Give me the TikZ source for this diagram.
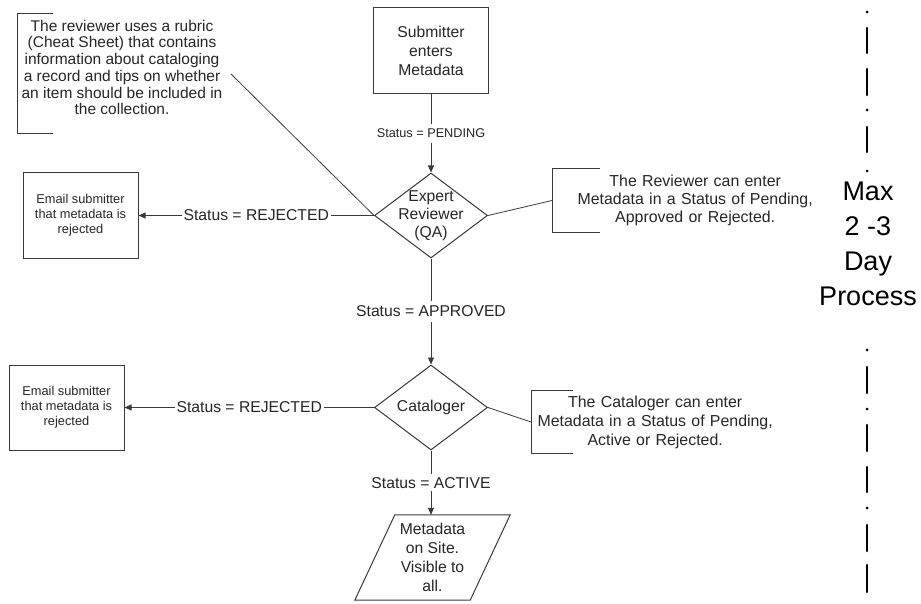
\documentclass[tikz,border=0pt]{standalone}
\usepackage{fontspec}
\setmainfont{Liberation Sans}
\usetikzlibrary{shapes.geometric, arrows.meta, positioning}
\definecolor{linegray}{HTML}{3A3A3A}
\definecolor{textgray}{HTML}{262626}

\begin{document}
\begin{tikzpicture}[
    x=1pt, y=-1pt,
    every node/.style={font=\fontsize{15.7}{19}\selectfont, text=textgray},
    box/.style={draw=linegray, line width=1pt, minimum width=115pt, minimum height=86pt, inner sep=0pt, align=center},
    dec/.style={draw=linegray, line width=1pt, diamond, minimum width=113pt, minimum height=85pt, inner sep=0pt},
    io/.style={minimum width=115pt, minimum height=85pt, inner sep=0pt, align=center},
    note/.style={anchor=west, inner sep=0pt, align=center},
    lbl/.style={fill=white, inner xsep=2pt, inner ysep=5pt},
    arr/.style={-{Triangle[length=7pt, width=6pt]}, line width=0.8pt, draw=linegray},
    ln/.style={line width=0.8pt, draw=linegray}
]
    \useasboundingbox (0,0) rectangle (921,604);

    % ===== main flow =====
    \node[box] (sub) at (431,51) {Submitter\\enters\\Metadata};
    \node[dec, label={[align=center, font=\fontsize{15.7}{18}\selectfont]center:Expert\\Reviewer\\(QA)}] (rev) at (431,215.5) {};
    \node[dec, label=center:Cataloger] (cat) at (431,407.5) {};
    \node[io] (site) at (432.5,557.5) {Metadata\\on Site.\\Visible to\\all.};
    \draw[draw=linegray, line width=1pt] ([xshift=20pt]site.north west) -- ([xshift=20pt]site.north east)
        -- ([xshift=-20pt]site.south east) -- ([xshift=-20pt]site.south west) -- cycle;

    % ===== rejection mails =====
    \node[box, minimum height=85pt, font=\fontsize{12.8}{15}\selectfont] (mail1) at (80.5,215.5) {Email submitter\\that metadata is\\rejected};
    \node[box, minimum height=85pt, font=\fontsize{12.8}{15}\selectfont] (mail2) at (66.5,407.5) {Email submitter\\that metadata is\\rejected};

    \draw[arr] (sub.south) -- node[lbl, font=\fontsize{12.7}{15}\selectfont] {Status = PENDING} (rev.north);
    \draw[arr] (rev.west) -- node[lbl] {Status = REJECTED} (mail1.east);
    \draw[arr] (rev.south) -- node[lbl] {Status = APPROVED} (cat.north);
    \draw[arr] (cat.west) -- node[lbl] {Status = REJECTED} (mail2.east);
    \draw[arr] (cat.south) -- node[lbl, inner ysep=3pt] {Status = ACTIVE} (cat.south |- site.north);

    % ===== notes =====
    \node[font=\fontsize{15.5}{16.7}\selectfont, align=center] (rubric) at (122,67.5)
        {The reviewer uses a rubric\\(Cheat Sheet) that contains\\information about cataloging\\a record and tips on whether\\an item should be included in\\the collection.};
    \draw[ln] (53,13) -| (17,133) -- (53,133);
    \coordinate (rubtip) at (231,74);
    \draw[ln] (rubtip) -- (rev.west);

    \node[note, text width=286pt, minimum height=63pt, font=\fontsize{15.9}{18}\selectfont] (revnote) at (552,200.5)
        {The Reviewer can enter\\Metadata in a Status of Pending,\\Approved or Rejected.};
    \draw[ln] ([xshift=48pt]revnote.north west) -- (revnote.north west) -- (revnote.south west) -- ([xshift=48pt]revnote.south west);
    \draw[ln] (rev.east) -- (revnote.west);

    \node[note, text width=248pt, minimum height=62pt, font=\fontsize{15.9}{19}\selectfont] (catnote) at (531,422)
        {The Cataloger can enter\\Metadata in a Status of Pending,\\Active or Rejected.};
    \draw[ln] ([xshift=42pt]catnote.north west) -- (catnote.north west) -- (catnote.south west) -- ([xshift=42pt]catnote.south west);
    \draw[ln] (cat.east) -- (catnote.west);

    % ===== time line =====
    \node[font=\fontsize{27}{35}\selectfont, align=center, text=black] (days) at (868,244) {Max\\2 -3\\Day\\Process};
    \foreach \a/\b in {28/53, 69/95, 127/152, 367/393, 425/451, 467/492, 525/551, 565/592}
        \draw[line width=2.6pt, line cap=round] (867,\a) -- (867,\b);
    \foreach \y in {12, 110, 171, 350, 409, 508}
        \fill (867,\y) circle (1.5);
\end{tikzpicture}
\end{document}
